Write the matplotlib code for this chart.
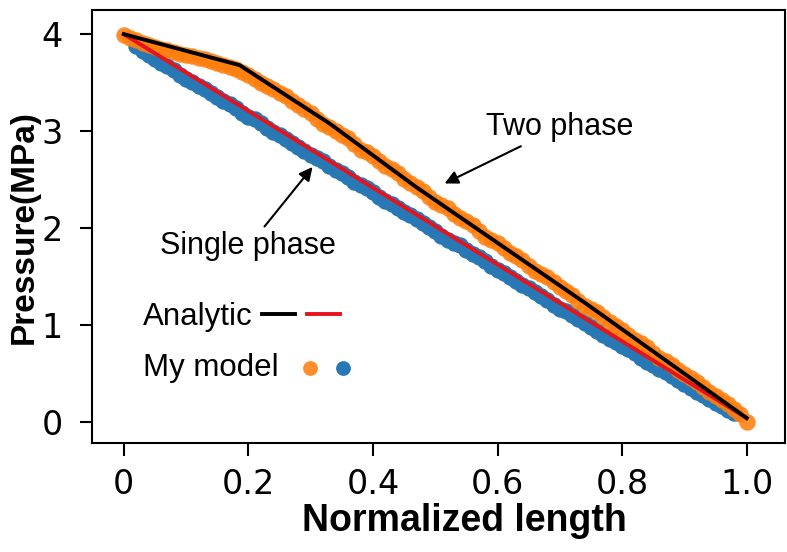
import matplotlib
matplotlib.use("Agg")
import matplotlib.pyplot as plt
from matplotlib.legend_handler import HandlerTuple

# Analytic solutions
x_two = [0.0, 0.186, 0.33, 0.47, 0.74, 1.0]
p_two = [4.0, 3.68, 3.08, 2.42, 1.23, 0.04]
x_single = [0.0, 1.0]
p_single = [4.0, 0.04]

# Model results (two phase)
x_model = [0.00, 0.01, 0.02, 0.03, 0.04, 0.05, 0.06, 0.07, 0.08, 0.09,
           0.10, 0.11, 0.12, 0.13, 0.14, 0.15, 0.16, 0.17, 0.18, 0.19,
           0.20, 0.21, 0.22, 0.23, 0.24, 0.25, 0.26, 0.27, 0.28, 0.29,
           0.30, 0.31, 0.32, 0.33, 0.34, 0.35, 0.36, 0.37, 0.38, 0.39,
           0.40, 0.41, 0.42, 0.43, 0.44, 0.45, 0.46, 0.47, 0.48, 0.49,
           0.50, 0.51, 0.52, 0.53, 0.54, 0.55, 0.56, 0.57, 0.58, 0.59,
           0.60, 0.61, 0.62, 0.63, 0.64, 0.65, 0.66, 0.67, 0.68, 0.69,
           0.70, 0.71, 0.72, 0.73, 0.74, 0.75, 0.76, 0.77, 0.78, 0.79,
           0.80, 0.81, 0.82, 0.83, 0.84, 0.85, 0.86, 0.87, 0.88, 0.89,
           0.90, 0.91, 0.92, 0.93, 0.94, 0.95, 0.96, 0.97, 0.98, 0.99, 1.00]
p_model_two = [3.99, 3.96, 3.94, 3.91, 3.89, 3.87, 3.85, 3.84, 3.82, 3.80,
               3.79, 3.77, 3.75, 3.74, 3.72, 3.70, 3.68, 3.66, 3.64, 3.61,
               3.58, 3.54, 3.50, 3.47, 3.43, 3.39, 3.36, 3.31, 3.27, 3.23,
               3.19, 3.13, 3.07, 3.04, 3.00, 2.96, 2.93, 2.87, 2.81, 2.78,
               2.74, 2.69, 2.64, 2.61, 2.57, 2.51, 2.46, 2.42, 2.38, 2.32,
               2.27, 2.24, 2.21, 2.15, 2.10, 2.07, 2.03, 1.97, 1.91, 1.88,
               1.85, 1.79, 1.74, 1.71, 1.67, 1.61, 1.56, 1.53, 1.49, 1.44,
               1.39, 1.35, 1.31, 1.25, 1.20, 1.17, 1.13, 1.08, 1.03, 0.99,
               0.95, 0.90, 0.85, 0.81, 0.77, 0.71, 0.66, 0.63, 0.59, 0.54,
               0.49, 0.45, 0.41, 0.36, 0.31, 0.27, 0.23, 0.18, 0.13, 0.08, 0.00]

# Model results (single phase)
x_model_single = x_model[2:-2]
p_model_single = [3.88, 3.83, 3.79, 3.74, 3.70, 3.67, 3.63, 3.58,
                  3.54, 3.51, 3.47, 3.43, 3.39, 3.35, 3.31, 3.28, 3.24, 3.19,
                  3.15, 3.12, 3.08, 3.03, 2.99, 2.96, 2.92, 2.88, 2.84, 2.79,
                  2.75, 2.72, 2.69, 2.64, 2.60, 2.57, 2.53, 2.48, 2.44, 2.41,
                  2.37, 2.32, 2.28, 2.25, 2.21, 2.17, 2.13, 2.09, 2.05, 2.01,
                  1.97, 1.92, 1.88, 1.85, 1.82, 1.77, 1.73, 1.70, 1.66, 1.61,
                  1.57, 1.54, 1.50, 1.45, 1.41, 1.38, 1.34, 1.30, 1.26, 1.21,
                  1.17, 1.14, 1.10, 1.06, 1.02, 0.98, 0.94, 0.90, 0.86, 0.82,
                  0.78, 0.75, 0.71, 0.66, 0.62, 0.59, 0.55, 0.51, 0.47, 0.43,
                  0.39, 0.35, 0.31, 0.28, 0.24, 0.20, 0.16, 0.12, 0.09]

xticks = [0, 0.2, 0.4, 0.6, 0.8, 1.0]
xtick_labels = ["0", "0.2", "0.4", "0.6", "0.8", "1.0"]
yticks = [0, 1, 2, 3, 4]

fig = plt.figure(figsize=(7.87, 5.52), dpi=100)
ax = fig.add_axes([0.117, 0.197, 0.88, 0.785])

sc_blue = ax.scatter(x_model_single, p_model_single, s=140, color="#2878b5", linewidths=0, zorder=2)
sc_orange = ax.scatter(x_model, p_model_two, s=140, color="#ff7f0e", alpha=0.88, linewidths=0, zorder=2)
ln_red, = ax.plot(x_single, p_single, color="#e8121b", lw=2.8, zorder=3)
ln_black, = ax.plot(x_two, p_two, color="black", lw=2.8, zorder=4)

ax.set_xlim(-0.051, 1.061)
ax.set_ylim(-0.22, 4.25)
ax.set_xticks(xticks)
ax.set_xticklabels(xtick_labels)
ax.set_yticks(yticks)
ax.tick_params(labelsize=24, length=9, width=1.5)
ax.tick_params(axis="x", pad=9)
ax.tick_params(axis="y", pad=12)
for sp in ax.spines.values():
    sp.set_linewidth(1.5)

ax.set_xlabel("Normalized length", fontsize=27, fontweight="bold", family="Liberation Sans")
ax.xaxis.set_label_coords(0.537, -0.138)
ax.set_ylabel("Pressure(MPa)", fontsize=24, fontweight="bold", family="Liberation Sans", labelpad=1)

arrow = dict(arrowstyle="-|>", color="black", lw=1.5, mutation_scale=20, shrinkA=2, shrinkB=0)
ax.annotate("Single phase", xy=(0.303, 2.63), xytext=(0.2, 1.81), ha="center", va="center",
            fontsize=22, family="Liberation Sans", arrowprops=arrow)
ax.annotate("Two phase", xy=(0.515, 2.46), xytext=(0.70, 3.04), ha="center", va="center",
            fontsize=22, family="Liberation Sans", arrowprops=arrow)

line_pair = (ln_black, ln_red)
dot_pair = (sc_orange, sc_blue)
leg = ax.legend([line_pair, dot_pair], ["Analytic", "My model"],
                handler_map={line_pair: HandlerTuple(ndivide=None, pad=0.38),
                             dot_pair: HandlerTuple(ndivide=None, pad=-0.4)},
                markerfirst=False, frameon=False, loc="upper left",
                bbox_to_anchor=(0.055, 0.354), borderaxespad=0,
                prop={"family": "Liberation Sans", "size": 22.5},
                handlelength=2.5, handletextpad=0.3, labelspacing=0.66, markerscale=0.9)
# rows start at the same left edge, handles follow their text
for col in leg._legend_handle_box.get_children():
    col.align = "left"

fig.savefig("out.png", dpi=100)
